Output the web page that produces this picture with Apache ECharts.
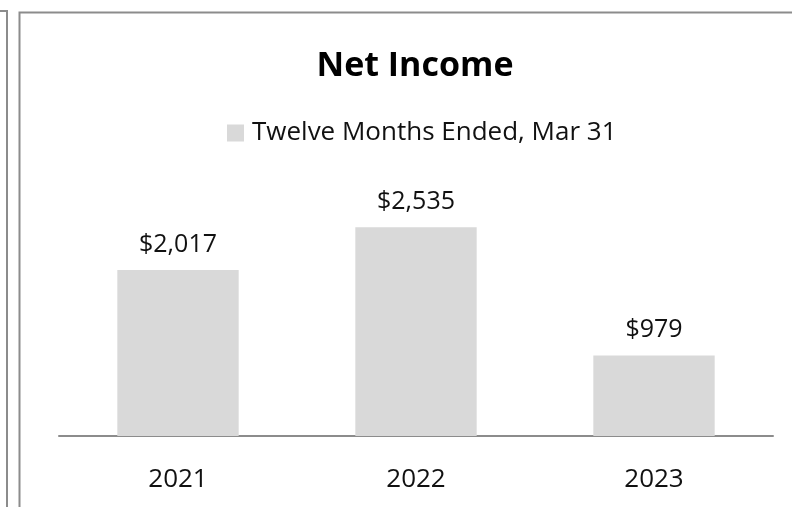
<!DOCTYPE html>
<html>
<head>
<meta charset="utf-8">
<script src="https://cdn.jsdelivr.net/npm/echarts@6/dist/echarts.min.js"></script>
<style>
  html, body { margin: 0; padding: 0; background: #fff; }
  #chart { width: 792px; height: 507px; }
</style>
</head>
<body>
<div id="chart"></div>
<script>
const years = ['2021', '2022', '2023']
const netIncome = [2017, 2535, 979]
const seriesName = 'Twelve Months Ended, Mar 31'

const chart = echarts.init(document.getElementById('chart'))
const font = '"Open Sans", "Noto Sans", sans-serif'

chart.setOption({
  animation: false,
  textStyle: { fontFamily: font },
  title: {
    text: 'Net Income', left: 410, top: 44, textAlign: 'center',
    textStyle: { fontSize: 34, fontWeight: 'bold', color: '#000', fontFamily: font }
  },
  legend: {
    data: [seriesName], top: 115, left: 222, icon: 'rect',
    itemWidth: 17, itemHeight: 17,
    textStyle: { fontSize: 26, color: '#111', padding: [0, 0, 0, 3] }
  },
  grid: { left: 59, right: 19, top: 189, bottom: 71 },
  xAxis: {
    type: 'category', data: years,
    axisLine: { lineStyle: { color: '#8c8c8c', width: 2 } },
    axisTick: { show: false },
    axisLabel: { color: '#111', fontSize: 26, margin: 31 }
  },
  yAxis: { type: 'value', min: 0, max: 3000, show: false, splitLine: { show: false } },
  series: [{
    name: seriesName, type: 'bar', data: netIncome, barWidth: '51%',
    itemStyle: { color: '#d9d9d9' },
    label: {
      show: true, position: 'top', distance: 13, color: '#111', fontSize: 25,
      formatter: p => '$' + p.value.toLocaleString('en-US')
    }
  }],
  graphic: [
    { type: 'polyline', shape: { points: [[0, 11], [7, 11], [7, 507]] }, style: { stroke: '#8c8c8c', lineWidth: 2, fill: null } },
    { type: 'polyline', shape: { points: [[19.5, 507], [19.5, 12.5], [792, 12.5]] }, style: { stroke: '#8c8c8c', lineWidth: 2, fill: null } }
  ]
})
</script>
</body>
</html>
